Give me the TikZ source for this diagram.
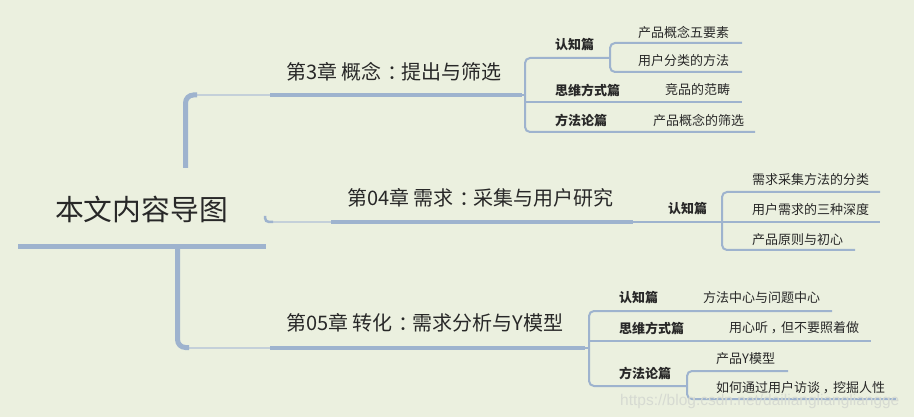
\documentclass[tikz,border=0pt]{standalone}
\usepackage{fontspec}
\setmainfont{Noto Sans CJK SC}
\newfontfamily\wmfont{Liberation Sans}
\definecolor{bgc}{RGB}{235,240,223}
\definecolor{linec}{RGB}{158,179,206}
\definecolor{lightc}{RGB}{196,208,217}
\definecolor{txtc}{RGB}{40,40,40}
\definecolor{wmc}{RGB}{214,218,210}
\newcommand\mycolon{\hspace{0.3em}：\hspace{-0.3em}}
\newcommand\mycomma{\hspace{0.2em}，\hspace{-0.2em}}
\begin{document}
\begin{tikzpicture}[x=1pt,y=-1pt,
  every node/.style={inner sep=0pt, anchor=west, text=txtc},
  roottxt/.style={font=\fontsize{28.8}{30}\selectfont},
  chaptxt/.style={font=\fontsize{20}{22}\selectfont},
  cattxt/.style={font=\fontsize{13}{15}\selectfont\bfseries},
  leaftxt/.style={font=\fontsize{13}{15}\selectfont},
  wmtxt/.style={font=\wmfont\fontsize{15.5}{17}\selectfont, text=wmc},
  trunk/.style={draw=linec, line width=5pt, rounded corners=8pt},
  stem/.style={draw=lightc, line width=2pt},
  chapline/.style={draw=linec, line width=4pt},
  twig/.style={draw=linec, line width=2pt, rounded corners=5pt},
]
\fill[bgc] (0,0) rectangle (914,417);
\useasboundingbox (0,0) rectangle (914,417);

% ---------- texts ----------
\node[roottxt] (root) at (55,209) {本文内容导图};

\node[chaptxt] (ch3) at (286,72) {第3章 概念\mycolon 提出与筛选};
\node[cattxt] (c3a) at (555,45) {认知篇};
\node[leaftxt] (l3a1) at (638,32) {产品概念五要素};
\node[leaftxt] (l3a2) at (638,61) {用户分类的方法};
\node[cattxt] (c3b) at (555,90) {思维方式篇};
\node[leaftxt] (l3b) at (665,90) {竞品的范畴};
\node[cattxt] (c3c) at (555,120) {方法论篇};
\node[leaftxt] (l3c) at (653,120) {产品概念的筛选};

\node[chaptxt] (ch4) at (347,198) {第04章 需求\mycolon 采集与用户研究};
\node[cattxt] (c4a) at (668,209) {认知篇};
\node[leaftxt] (l4a1) at (752,180) {需求采集方法的分类};
\node[leaftxt] (l4a2) at (752,210) {用户需求的三种深度};
\node[leaftxt] (l4a3) at (752,240) {产品原则与初心};

\node[chaptxt] (ch5) at (286,323) {第05章 转化\mycolon 需求分析与Y模型};
\node[cattxt] (c5a) at (619,298) {认知篇};
\node[leaftxt] (l5a) at (703,298) {方法中心与问题中心};
\node[cattxt] (c5b) at (619,328) {思维方式篇};
\node[leaftxt] (l5b) at (729,328) {用心听\mycomma 但不要照着做};
\node[cattxt] (c5c) at (619,373) {方法论篇};
\node[leaftxt] (l5c1) at (716,359) {产品Y模型};
\node[leaftxt] (l5c2) at (716,387.5) {如何通过用户访谈\mycomma 挖掘人性};

% ---------- junction coordinates ----------
\coordinate (rL) at (18,247);   \coordinate (rR) at (266,247);
\coordinate (tA) at (185.5,168); \coordinate (tB) at (185.5,95); \coordinate (tC) at (197,95);
\coordinate (tD) at (194,95);    \coordinate (tE) at (271,95);
\coordinate (bA) at (177.5,247); \coordinate (bB) at (177.5,347.5); \coordinate (bC) at (189,347.5);
\coordinate (bD) at (186,347.5); \coordinate (bE) at (271,347.5);
\coordinate (mA) at (265,216);   \coordinate (mB) at (265,222); \coordinate (mC) at (273,222);
\coordinate (mD) at (271,222);   \coordinate (mE) at (332,222);

\coordinate (u3s) at (270,95);  \coordinate (u3e) at (522,95);
\coordinate (u4s) at (331,222); \coordinate (u4e) at (633,222);
\coordinate (u5s) at (270,347.5); \coordinate (u5e) at (585,347.5);

% top group
\coordinate (k3) at (525,95);
\coordinate (k3t) at (525,58); \coordinate (k3m) at (525,102); \coordinate (k3b) at (525,132);
\coordinate (s3) at (610,58); \coordinate (s3t) at (610,43); \coordinate (s3b) at (610,72);
\coordinate (e3a1) at (742,43); \coordinate (e3a2) at (742,72);
\coordinate (e3b) at (742,102); \coordinate (e3c) at (755,132);

% middle group
\coordinate (k4) at (722,222);
\coordinate (k4t) at (722,192); \coordinate (k4b) at (722,250);
\coordinate (e4a1) at (880,192); \coordinate (e4a2) at (880,222); \coordinate (e4a3) at (855,250);

% bottom group
\coordinate (k5) at (589,347.5);
\coordinate (k5t) at (589,311); \coordinate (k5m) at (589,341); \coordinate (k5b) at (589,386);
\coordinate (s5) at (687,386); \coordinate (s5t) at (687,371); \coordinate (s5b) at (687,399);
\coordinate (e5a) at (832,311); \coordinate (e5b) at (871,341);
\coordinate (e5c1) at (788,371); \coordinate (e5c2) at (896,399);

% ---------- connectors ----------
\draw[draw=linec, line width=5pt] (rL) -- (rR);

\draw[stem] (tD) -- (tE);
\draw[trunk] (tA) -- (tB) -- (tC);
\draw[stem] (bD) -- (bE);
\draw[trunk] (bA) -- (bB) -- (bC);
\draw[stem] (mD) -- (mE);
\draw[draw=linec, line width=2.5pt, rounded corners=4pt] (mA) -- (mB) -- (mC);

\draw[chapline] (u3s) -- (u3e);
\draw[chapline] (u4s) -- (u4e);
\draw[chapline] (u5s) -- (u5e);

% top group
\draw[twig] (u3e) -- (k3);
\draw[twig] (s3) -- (k3t) -- (k3b) -- (e3c);
\draw[twig] (k3m) -- (e3b);
\draw[twig] (e3a1) -- (s3t) -- (s3b) -- (e3a2);

% middle group
\draw[twig] (u4e) -- (k4);
\draw[twig] (e4a1) -- (k4t) -- (k4b) -- (e4a3);
\draw[twig] (k4) -- (e4a2);

% bottom group
\draw[twig] (u5e) -- (k5);
\draw[twig] (e5a) -- (k5t) -- (k5b) -- (s5);
\draw[twig] (k5m) -- (e5b);
\draw[twig] (e5c1) -- (s5t) -- (s5b) -- (e5c2);

% watermark
\node[wmtxt] (wm) at (620,401.5) {https://blog.csdn.net/dailiangliangliangge};
\end{tikzpicture}
\end{document}
